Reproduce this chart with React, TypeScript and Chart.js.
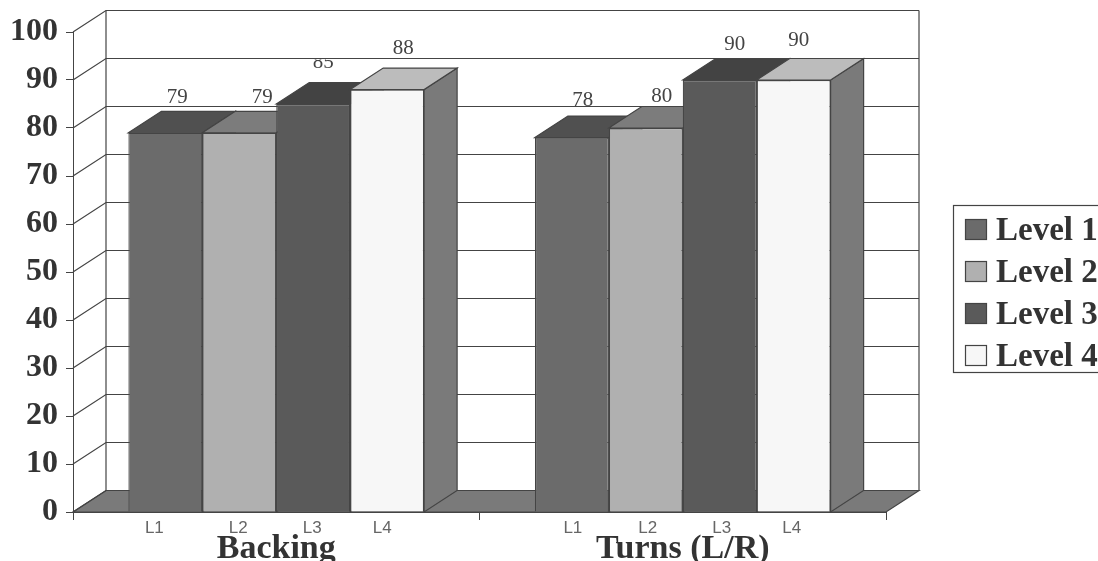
import React, { useEffect, useRef } from "react";
import { Chart, registerables } from "chart.js";

Chart.register(...registerables);

const categories = ["Backing", "Turns (L/R)"];
const seriesNames = ["Level 1", "Level 2", "Level 3", "Level 4"];
const level1 = [79, 78];
const level2 = [79, 80];
const level3 = [85, 90];
const level4 = [88, 90];
const subLabels = ["L1", "L2", "L3", "L4"];
const faceColors = ["#6b6b6b", "#b0b0b0", "#5a5a5a", "#f7f7f7"];
const topColors = ["#505050", "#7c7c7c", "#434343", "#bcbcbc"];
const sideColor = "#7a7a7a";
const floorColor = "#7a7a7a";
const lineColor = "#444444";

const DX = 33;
const DY = 21.5;
const SERIF = '"Liberation Serif", serif';
const NARROW = '"Liberation Sans Narrow", "Liberation Sans", sans-serif';

// nudges of small texts relative to their bar (as seen in the picture)
const subLabelNudge = [
  [-11, -1, -1, -5],
  [1, 2, 2, -2],
];
const valueNudge = [
  [
    [12, -35],
    [23, -35],
    [10, -42],
    [16, -41],
  ],
  [
    [11, -37],
    [16, -32],
    [15, -36],
    [5, -40],
  ],
];

const room3d = {
  id: "room3d",
  beforeDatasetsDraw(chart: any) {
    const { ctx, chartArea: a, scales } = chart;
    const y = scales.y;
    const base = y.getPixelForValue(0);
    const top = y.getPixelForValue(100);
    ctx.save();
    ctx.lineWidth = 1.2;
    ctx.strokeStyle = lineColor;

    // value labels, behind the lines and the bars
    chart.data.datasets.forEach((ds: any, d: number) => {
      const meta = chart.getDatasetMeta(d);
      meta.data.forEach((bar: any, i: number) => {
        const [nx, ny] = valueNudge[i][d];
        ctx.save();
        if (i === 0 && d === 2) {
          const lim = y.getPixelForValue(90) - DY + 1;
          ctx.beginPath();
          ctx.rect(bar.x, lim, 100, 40);
          ctx.clip();
        }
        ctx.fillStyle = "#444444";
        ctx.font = `21px ${SERIF}`;
        ctx.textAlign = "center";
        ctx.textBaseline = "middle";
        ctx.fillText(String(ds.data[i]), bar.x + nx, bar.y + ny);
        ctx.restore();
      });
    });

    // floor
    ctx.fillStyle = floorColor;
    ctx.beginPath();
    ctx.moveTo(a.left, base);
    ctx.lineTo(a.left + DX, base - DY);
    ctx.lineTo(a.right + DX, base - DY);
    ctx.lineTo(a.right, base);
    ctx.closePath();
    ctx.fill();
    ctx.stroke();

    // gridlines: side wall and back wall
    y.ticks.forEach((t: any) => {
      const py = y.getPixelForValue(t.value);
      ctx.beginPath();
      ctx.moveTo(a.left, py);
      ctx.lineTo(a.left + DX, py - DY);
      ctx.lineTo(a.right + DX, py - DY);
      ctx.stroke();
    });
    ctx.beginPath();
    ctx.moveTo(a.left + DX, base - DY);
    ctx.lineTo(a.left + DX, top - DY);
    ctx.moveTo(a.right + DX, base - DY);
    ctx.lineTo(a.right + DX, top - DY);
    ctx.stroke();

    // tops and sides of the bars, left to right
    const n = chart.data.labels.length;
    for (let i = 0; i < n; i++) {
      chart.data.datasets.forEach((_: any, d: number) => {
        const bar: any = chart.getDatasetMeta(d).data[i];
        const l = bar.x - bar.width / 2;
        const r = bar.x + bar.width / 2;
        ctx.fillStyle = sideColor;
        ctx.beginPath();
        ctx.moveTo(r, bar.y);
        ctx.lineTo(r + DX, bar.y - DY);
        ctx.lineTo(r + DX, base - DY);
        ctx.lineTo(r, base);
        ctx.closePath();
        ctx.fill();
        ctx.stroke();
        ctx.fillStyle = topColors[d];
        ctx.beginPath();
        ctx.moveTo(l, bar.y);
        ctx.lineTo(l + DX, bar.y - DY);
        ctx.lineTo(r + DX, bar.y - DY);
        ctx.lineTo(r, bar.y);
        ctx.closePath();
        ctx.fill();
        ctx.stroke();
      });
    }
    ctx.restore();
  },
  afterDraw(chart: any) {
    const { ctx } = chart;
    const base = chart.scales.y.getPixelForValue(0);
    ctx.save();
    // L1..L4 under the bars
    ctx.fillStyle = "#666666";
    ctx.font = `17px ${NARROW}`;
    ctx.textAlign = "center";
    ctx.textBaseline = "middle";
    chart.data.datasets.forEach((_: any, d: number) => {
      chart.getDatasetMeta(d).data.forEach((bar: any, i: number) => {
        ctx.fillText(subLabels[d], bar.x + subLabelNudge[i][d], base + 16);
      });
    });

    // legend, running off the right edge as in the picture
    ctx.lineWidth = 1.2;
    ctx.strokeStyle = lineColor;
    ctx.fillStyle = "#ffffff";
    ctx.fillRect(953.5, 205.5, 150, 167);
    ctx.strokeRect(953.5, 205.5, 150, 167);
    ctx.font = `bold 33px ${SERIF}`;
    ctx.textAlign = "left";
    chart.data.datasets.forEach((ds: any, d: number) => {
      const sy = 219.5 + d * 42;
      ctx.fillStyle = ds.backgroundColor;
      ctx.fillRect(965.5, sy, 21, 20);
      ctx.strokeRect(965.5, sy, 21, 20);
      ctx.fillStyle = "#333333";
      ctx.textBaseline = "alphabetic";
      ctx.fillText(ds.label, 996, sy + 20);
    });
    ctx.restore();
  },
};

export default function App() {
  const ref = useRef<HTMLCanvasElement>(null);
  useEffect(() => {
    const values = [level1, level2, level3, level4];
    const chart = new Chart(ref.current as HTMLCanvasElement, {
      type: "bar",
      data: {
        labels: categories,
        datasets: seriesNames.map((label, i) => ({
          label,
          data: values[i],
          backgroundColor: faceColors[i],
          borderColor: lineColor,
          borderWidth: 1.2,
          barPercentage: 1,
          categoryPercentage: 0.7275,
        })),
      },
      options: {
        responsive: false,
        animation: false,
        devicePixelRatio: 1,
        layout: { padding: { left: 0, right: 212, top: 32, bottom: 0 } },
        plugins: { legend: { display: false }, tooltip: { enabled: false }, title: { display: false } },
        scales: {
          x: {
            afterFit(s: any) {
              s.height = 49;
            },
            grid: { drawOnChartArea: false, tickLength: 8, color: lineColor },
            border: { color: lineColor },
            ticks: {
              autoSkip: false,
              maxRotation: 0,
              padding: 9,
              color: "#333333",
              font: { family: "Liberation Serif", size: 34, weight: "bold" },
            },
          },
          y: {
            min: 0,
            max: 100,
            afterFit(s: any) {
              s.width = 73;
            },
            grid: { drawOnChartArea: false, tickLength: 7, color: lineColor },
            border: { color: lineColor },
            ticks: {
              stepSize: 10,
              padding: 8,
              color: "#333333",
              font: { family: "Liberation Serif", size: 32, weight: "bold" },
            },
          },
        },
      },
      plugins: [room3d],
    } as any);
    return () => chart.destroy();
  }, []);
  return (
    <canvas
      ref={ref}
      width={1098}
      height={561}
      style={{ position: "absolute", left: 0, top: 0, width: 1098, height: 561, display: "block" }}
    />
  );
}
